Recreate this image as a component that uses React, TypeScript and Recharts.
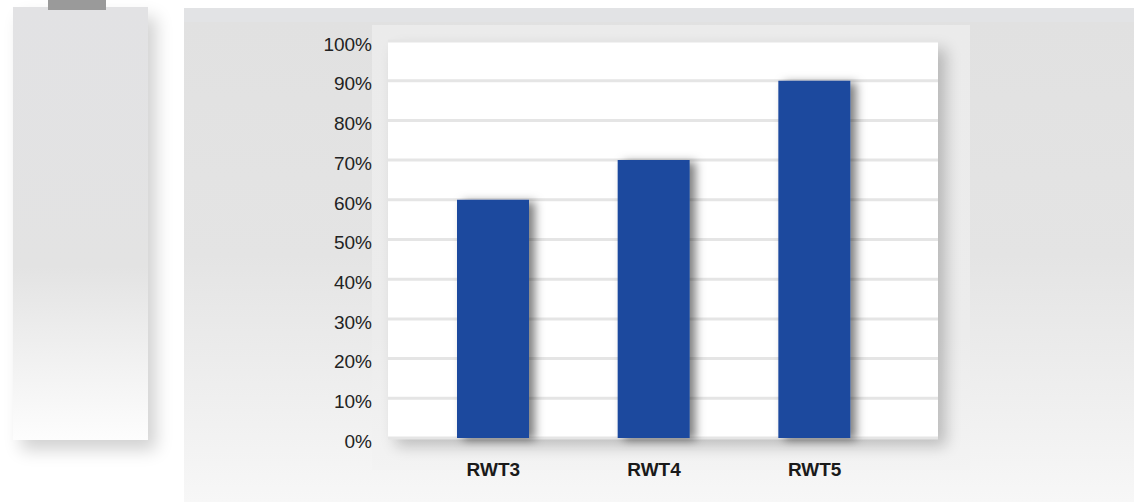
import React from "react";
import { BarChart, Bar, XAxis, YAxis, CartesianGrid } from "recharts";

const categories = ["RWT3", "RWT4", "RWT5"];
const shares = [0.6, 0.7, 0.9];
const yTicks = [0, 0.1, 0.2, 0.3, 0.4, 0.5, 0.6, 0.7, 0.8, 0.9, 1];

const data = categories.map((name, i) => ({ name, value: shares[i] }));

const font = '"Liberation Sans", Arial, Helvetica, sans-serif';

export default function App() {
  return (
    <div style={{ position: "absolute", left: 0, top: 0, width: 1134, height: 502, background: "#fff", overflow: "hidden", fontFamily: font }}>
      {/* left side card */}
      <div style={{
        position: "absolute", left: 13, top: 7, width: 135, height: 433,
        background: "linear-gradient(#e2e2e4, #e3e3e3 60%, #fdfdfd)",
        boxShadow: "8px 10px 16px rgba(0,0,0,0.18)",
      }} />
      <div style={{ position: "absolute", left: 48, top: 0, width: 58, height: 10, background: "#9a9a9a" }} />

      {/* main panel */}
      <div style={{
        position: "absolute", left: 184, top: 8, width: 950, height: 494,
        background: "linear-gradient(#e2e3e5 0px, #e2e3e5 14px, #e1e1e1 14px, #e4e4e4 50%, #f7f7f7 100%)",
      }} />
      <div style={{
        position: "absolute", left: 372, top: 25, width: 598, height: 445,
        background: "linear-gradient(#ebebeb, #ececec 70%, #f3f3f3)",
      }} />
      <div style={{
        position: "absolute", left: 388, top: 41, width: 550, height: 397,
        background: "#fff", boxShadow: "8px 8px 14px rgba(0,0,0,0.22)",
      }} />

      <div style={{ position: "absolute", left: 300, top: 25 }}>
        <BarChart width={670} height={475} data={data}
          margin={{ top: 16, right: 32, left: 0, bottom: 32 }}>
          <defs>
            <filter id="barShadow" x="-20%" y="-20%" width="160%" height="140%">
              <feDropShadow dx="6" dy="2" stdDeviation="5" floodColor="#000" floodOpacity="0.5" />
            </filter>
          </defs>
          <CartesianGrid vertical={false} stroke="#e5e5e5" strokeWidth={3} />
          <XAxis dataKey="name" axisLine={false} tickLine={false} tickSize={6} tickMargin={19}
            height={30} padding={{ left: 25, right: 43 }}
            tick={{ fill: "#1a1a1a", fontSize: 19, fontWeight: "bold", fontFamily: font }} />
          <YAxis domain={[0, 1]} ticks={yTicks} width={88} axisLine={false} tickLine={false}
            tickSize={6} tickMargin={10} interval={0}
            tickFormatter={(v: number) => `${Math.round(v * 100)}%`}
            tick={{ fill: "#222", fontSize: 19, fontFamily: font, dy: 3 }} />
          <Bar dataKey="value" fill="#1f4a9e" barSize={72} isAnimationActive={false}
            style={{ filter: "url(#barShadow)" }} />
        </BarChart>
      </div>
    </div>
  );
}
